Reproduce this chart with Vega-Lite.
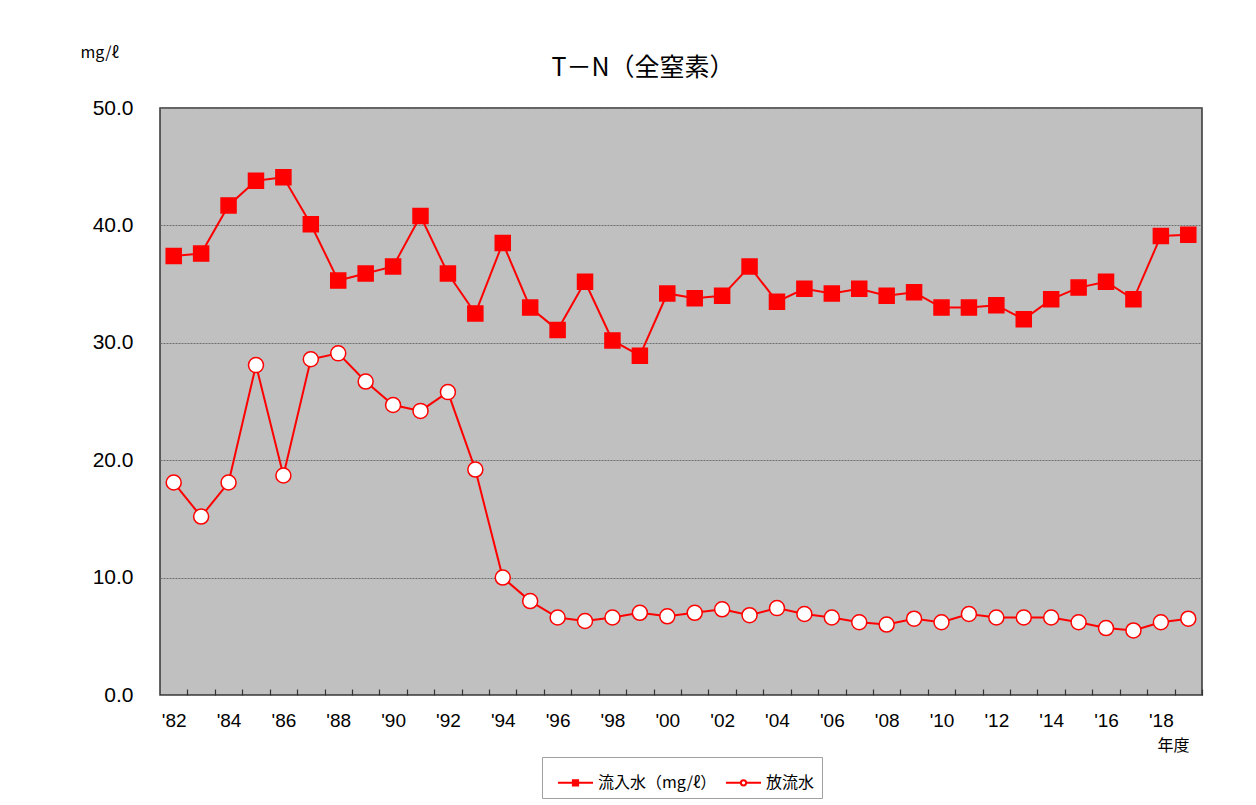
{
  "$schema": "https://vega.github.io/schema/vega-lite/v6.json",
  "autosize": {"type": "none"},
  "width": 1042,
  "height": 587,
  "padding": {"left": 160, "top": 108, "right": 54, "bottom": 110},
  "background": "#FFFFFF",
  "title": {
    "text": "T－N（全窒素）",
    "font": "Noto Sans CJK JP",
    "fontSize": 25,
    "fontWeight": "normal",
    "color": "#000000",
    "anchor": "middle",
    "dx": -38,
    "offset": -37
  },
  "config": {
    "view": {"fill": "#C0C0C0", "stroke": "#333333", "strokeWidth": 1.5},
    "axis": {"labelFont": "Liberation Sans", "labelColor": "#000000", "titleColor": "#000000"}
  },
  "datasets": {
    "tn": [
      {"year": 1982, "series": "流入水（mg/ℓ）", "value": 37.4},
      {"year": 1983, "series": "流入水（mg/ℓ）", "value": 37.6},
      {"year": 1984, "series": "流入水（mg/ℓ）", "value": 41.7},
      {"year": 1985, "series": "流入水（mg/ℓ）", "value": 43.8},
      {"year": 1986, "series": "流入水（mg/ℓ）", "value": 44.1},
      {"year": 1987, "series": "流入水（mg/ℓ）", "value": 40.1},
      {"year": 1988, "series": "流入水（mg/ℓ）", "value": 35.3},
      {"year": 1989, "series": "流入水（mg/ℓ）", "value": 35.9},
      {"year": 1990, "series": "流入水（mg/ℓ）", "value": 36.5},
      {"year": 1991, "series": "流入水（mg/ℓ）", "value": 40.8},
      {"year": 1992, "series": "流入水（mg/ℓ）", "value": 35.9},
      {"year": 1993, "series": "流入水（mg/ℓ）", "value": 32.5},
      {"year": 1994, "series": "流入水（mg/ℓ）", "value": 38.5},
      {"year": 1995, "series": "流入水（mg/ℓ）", "value": 33.0},
      {"year": 1996, "series": "流入水（mg/ℓ）", "value": 31.1},
      {"year": 1997, "series": "流入水（mg/ℓ）", "value": 35.2},
      {"year": 1998, "series": "流入水（mg/ℓ）", "value": 30.2},
      {"year": 1999, "series": "流入水（mg/ℓ）", "value": 28.9},
      {"year": 2000, "series": "流入水（mg/ℓ）", "value": 34.2},
      {"year": 2001, "series": "流入水（mg/ℓ）", "value": 33.8},
      {"year": 2002, "series": "流入水（mg/ℓ）", "value": 34.0},
      {"year": 2003, "series": "流入水（mg/ℓ）", "value": 36.5},
      {"year": 2004, "series": "流入水（mg/ℓ）", "value": 33.5},
      {"year": 2005, "series": "流入水（mg/ℓ）", "value": 34.6},
      {"year": 2006, "series": "流入水（mg/ℓ）", "value": 34.2},
      {"year": 2007, "series": "流入水（mg/ℓ）", "value": 34.6},
      {"year": 2008, "series": "流入水（mg/ℓ）", "value": 34.0},
      {"year": 2009, "series": "流入水（mg/ℓ）", "value": 34.3},
      {"year": 2010, "series": "流入水（mg/ℓ）", "value": 33.0},
      {"year": 2011, "series": "流入水（mg/ℓ）", "value": 33.0},
      {"year": 2012, "series": "流入水（mg/ℓ）", "value": 33.2},
      {"year": 2013, "series": "流入水（mg/ℓ）", "value": 32.0},
      {"year": 2014, "series": "流入水（mg/ℓ）", "value": 33.7},
      {"year": 2015, "series": "流入水（mg/ℓ）", "value": 34.7},
      {"year": 2016, "series": "流入水（mg/ℓ）", "value": 35.2},
      {"year": 2017, "series": "流入水（mg/ℓ）", "value": 33.7},
      {"year": 2018, "series": "流入水（mg/ℓ）", "value": 39.1},
      {"year": 2019, "series": "流入水（mg/ℓ）", "value": 39.2},
      {"year": 1982, "series": "放流水", "value": 18.1},
      {"year": 1983, "series": "放流水", "value": 15.2},
      {"year": 1984, "series": "放流水", "value": 18.1},
      {"year": 1985, "series": "放流水", "value": 28.1},
      {"year": 1986, "series": "放流水", "value": 18.7},
      {"year": 1987, "series": "放流水", "value": 28.6},
      {"year": 1988, "series": "放流水", "value": 29.1},
      {"year": 1989, "series": "放流水", "value": 26.7},
      {"year": 1990, "series": "放流水", "value": 24.7},
      {"year": 1991, "series": "放流水", "value": 24.2},
      {"year": 1992, "series": "放流水", "value": 25.8},
      {"year": 1993, "series": "放流水", "value": 19.2},
      {"year": 1994, "series": "放流水", "value": 10.0},
      {"year": 1995, "series": "放流水", "value": 8.0},
      {"year": 1996, "series": "放流水", "value": 6.6},
      {"year": 1997, "series": "放流水", "value": 6.3},
      {"year": 1998, "series": "放流水", "value": 6.6},
      {"year": 1999, "series": "放流水", "value": 7.0},
      {"year": 2000, "series": "放流水", "value": 6.7},
      {"year": 2001, "series": "放流水", "value": 7.0},
      {"year": 2002, "series": "放流水", "value": 7.3},
      {"year": 2003, "series": "放流水", "value": 6.8},
      {"year": 2004, "series": "放流水", "value": 7.4},
      {"year": 2005, "series": "放流水", "value": 6.9},
      {"year": 2006, "series": "放流水", "value": 6.6},
      {"year": 2007, "series": "放流水", "value": 6.2},
      {"year": 2008, "series": "放流水", "value": 6.0},
      {"year": 2009, "series": "放流水", "value": 6.5},
      {"year": 2010, "series": "放流水", "value": 6.2},
      {"year": 2011, "series": "放流水", "value": 6.9},
      {"year": 2012, "series": "放流水", "value": 6.6},
      {"year": 2013, "series": "放流水", "value": 6.6},
      {"year": 2014, "series": "放流水", "value": 6.6},
      {"year": 2015, "series": "放流水", "value": 6.2},
      {"year": 2016, "series": "放流水", "value": 5.7},
      {"year": 2017, "series": "放流水", "value": 5.5},
      {"year": 2018, "series": "放流水", "value": 6.2},
      {"year": 2019, "series": "放流水", "value": 6.5}
    ]
  },
  "data": {"name": "tn"},
  "encoding": {
    "x": {
      "field": "year",
      "type": "quantitative",
      "scale": {"domain": [1981.5, 2019.5], "nice": false, "zero": false},
      "axis": {
        "orient": "bottom",
        "offset": -6,
        "zindex": 1,
        "title": "年度",
        "titleFont": "Noto Sans CJK JP",
        "titleFontSize": 16,
        "titleFontWeight": "normal",
        "titleAlign": "left",
        "titleBaseline": "middle",
        "titleX": 997,
        "titleY": 56,
        "values": [1982, 1983, 1984, 1985, 1986, 1987, 1988, 1989, 1990, 1991, 1992, 1993, 1994, 1995, 1996, 1997, 1998, 1999, 2000, 2001, 2002, 2003, 2004, 2005, 2006, 2007, 2008, 2009, 2010, 2011, 2012, 2013, 2014, 2015, 2016, 2017, 2018, 2019],
        "labelExpr": "datum.value % 2 == 0 ? \"'\" + slice(toString(datum.value), 2) : ''",
        "labelAngle": 0,
        "labelFontSize": 19,
        "labelPadding": 16,
        "labelFlush": false,
        "labelOverlap": false,
        "tickOffset": 13.71,
        "labelOffset": -13.71,
        "ticks": true,
        "tickSize": 6,
        "tickWidth": 1.2,
        "tickColor": "#333333",
        "domain": false,
        "grid": false
      }
    },
    "y": {
      "field": "value",
      "type": "quantitative",
      "scale": {"domain": [0, 50], "nice": false},
      "axis": {
        "title": "mg/ℓ",
        "titleFont": "Noto Sans CJK JP",
        "titleFontSize": 16,
        "titleFontWeight": "normal",
        "titleAngle": 0,
        "titleAlign": "left",
        "titleBaseline": "middle",
        "titleX": -80,
        "titleY": -56,
        "values": [0, 10, 20, 30, 40, 50],
        "format": ".1f",
        "labelFontSize": 21,
        "labelPadding": 27,
        "ticks": false,
        "domain": false,
        "grid": true,
        "gridColor": "#6E6E6E",
        "gridDash": [2, 1],
        "gridWidth": 1
      }
    }
  },
  "resolve": {"scale": {"shape": "independent", "fill": "independent"}},
  "layer": [
    {
      "mark": {"type": "line", "color": "#FF0000", "strokeWidth": 2},
      "encoding": {"detail": {"field": "series", "type": "nominal"}}
    },
    {
      "mark": {"type": "point", "size": 225, "stroke": "#FF0000", "strokeWidth": 1.5, "opacity": 1},
      "encoding": {
        "shape": {
          "field": "series",
          "type": "nominal",
          "scale": {"domain": ["流入水（mg/ℓ）", "放流水"], "range": ["square", "circle"]},
          "legend": null
        },
        "fill": {
          "field": "series",
          "type": "nominal",
          "scale": {"domain": ["流入水（mg/ℓ）", "放流水"], "range": ["#FF0000", "#FFFFFF"]},
          "legend": null
        }
      }
    },
    {
      "mark": {"type": "point", "size": 0, "stroke": "#FF0000", "strokeWidth": 2, "opacity": 1},
      "encoding": {
        "shape": {
          "field": "series",
          "type": "nominal",
          "scale": {
            "domain": ["流入水（mg/ℓ）", "放流水"],
            "range": ["M-1,0H1M-0.15,-0.15H0.15V0.15H-0.15Z", "M-1,0H-0.15M0.15,0H1M-0.15,0A0.15,0.15 0 1,0 0.15,0A0.15,0.15 0 1,0 -0.15,0Z"]
          },
          "legend": {
            "title": null,
            "orient": "none",
            "direction": "horizontal",
            "legendX": 382,
            "legendY": 649,
            "padding": 7,
            "strokeColor": "#A0A0A0",
            "fillColor": "#FFFFFF",
            "labelFont": "Noto Sans CJK JP",
            "labelFontSize": 16,
            "labelColor": "#000000",
            "columnPadding": -12,
            "symbolOffset": 8,
            "symbolSize": 1225,
            "symbolStrokeWidth": 2,
            "encode": {
              "symbols": {
                "size": {"value": 1225},
                "stroke": {"value": "#FF0000"},
                "strokeWidth": {"value": 2},
                "opacity": {"value": 1}
              }
            }
          }
        },
        "fill": {
          "field": "series",
          "type": "nominal",
          "scale": {"domain": ["流入水（mg/ℓ）", "放流水"], "range": ["#FF0000", "#FFFFFF"]},
          "legend": {
            "title": null,
            "orient": "none",
            "direction": "horizontal",
            "legendX": 382,
            "legendY": 649
          }
        }
      }
    }
  ]
}
